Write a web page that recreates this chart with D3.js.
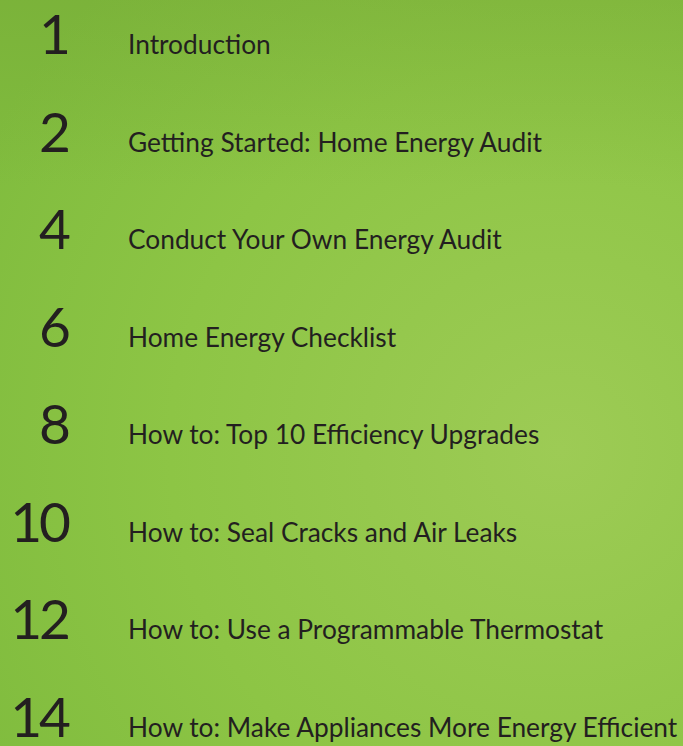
<!DOCTYPE html>
<html>
<head>
<meta charset="utf-8">
<script src="https://cdn.jsdelivr.net/npm/d3@7.9.0/dist/d3.min.js"></script>
<style>
  html, body { margin: 0; padding: 0; }
  body { width: 683px; height: 746px; overflow: hidden; }
</style>
</head>
<body>
<div id="toc"></div>
<script>
// table of contents entries
const pages = [1, 2, 4, 6, 8, 10, 12, 14];
const titles = [
  'Introduction',
  'Getting Started: Home Energy Audit',
  'Conduct Your Own Energy Audit',
  'Home Energy Checklist',
  'How to: Top 10 Efficiency Upgrades',
  'How to: Seal Cracks and Air Leaks',
  'How to: Use a Programmable Thermostat',
  'How to: Make Appliances More Energy Efficient'
];

const rows = pages.map((p, i) => ({ page: p, title: titles[i] }));

const width = 683, height = 746;
const inkColor = '#231f20';

const svg = d3.select('#toc').append('svg')
  .attr('width', width)
  .attr('height', height);

// green background
const defs = svg.append('defs');
const grad = defs.append('radialGradient')
  .attr('id', 'bg')
  .attr('gradientUnits', 'userSpaceOnUse')
  .attr('cx', 560).attr('cy', 450).attr('r', 650);
grad.append('stop').attr('offset', '0%').attr('stop-color', '#9dcb55');
grad.append('stop').attr('offset', '60%').attr('stop-color', '#8dc545');
grad.append('stop').attr('offset', '100%').attr('stop-color', '#80bc3e');

const shade = defs.append('linearGradient')
  .attr('id', 'topShade')
  .attr('x1', 0).attr('y1', 0).attr('x2', 0).attr('y2', 1);
shade.append('stop').attr('offset', '0%').attr('stop-color', '#6f9e30').attr('stop-opacity', 0.3);
shade.append('stop').attr('offset', '25%').attr('stop-color', '#6f9e30').attr('stop-opacity', 0);

svg.append('rect').attr('width', width).attr('height', height).attr('fill', 'url(#bg)');
svg.append('rect').attr('width', width).attr('height', height).attr('fill', 'url(#topShade)');

// row positions (baselines)
const y = d3.scalePoint()
  .domain(pages)
  .range([54, 737]);

const g = svg.append('g');

const row = g.selectAll('g.row')
  .data(rows)
  .join('g')
  .attr('class', 'row')
  .attr('transform', d => `translate(0,${y(d.page)})`);

row.append('text')
  .attr('class', 'num')
  .attr('x', 68)
  .attr('text-anchor', 'end')
  .style('font-family', 'Lato, sans-serif')
  .style('font-weight', 400)
  .style('font-size', '55px')
  .style('letter-spacing', '-3px')
  .style('font-variant-numeric', 'tabular-nums')
  .attr('fill', inkColor)
  .text(d => d.page);

row.append('text')
  .attr('class', 'title')
  .attr('x', 128)
  .style('font-family', 'Lato, sans-serif')
  .style('font-weight', 400)
  .style('font-size', '26.3px')
  .attr('fill', inkColor)
  .text(d => d.title);
</script>
</body>
</html>
